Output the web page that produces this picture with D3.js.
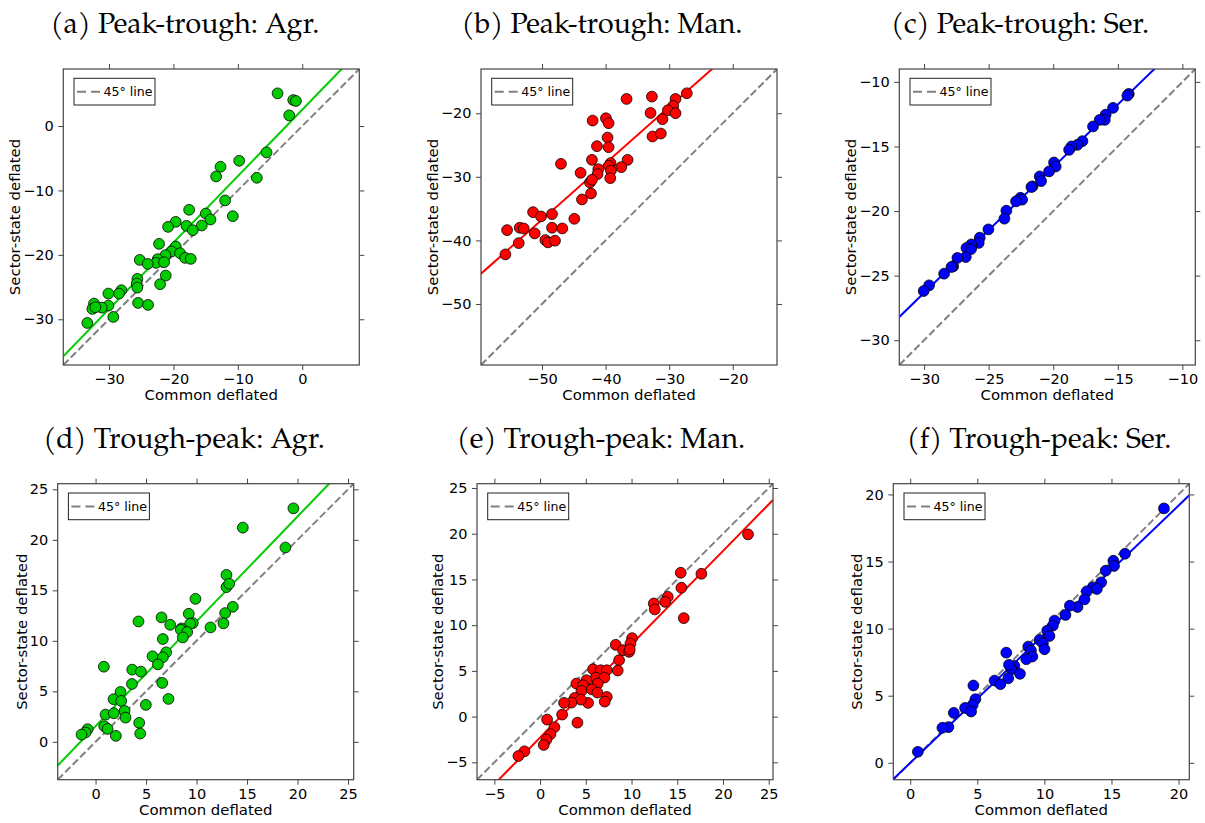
<!DOCTYPE html>
<html>
<head>
<meta charset="utf-8">
<script src="https://cdn.jsdelivr.net/npm/d3@7"></script>
<style>
  body { margin: 0; background: #fff; }
  .tick text { font-family: "DejaVu Sans", sans-serif; font-size: 14.5px; fill: #000; }
  .tick line { stroke: #444; stroke-width: 1; }
</style>
</head>
<body>
<div id="fig"></div>
<script>
// Scatter data (common deflated, sector-state deflated)
// Peak-trough
const agrPT_x = [-3.83,-1.40,-0.98,-2.02,-5.54,-9.79,-12.69,-13.37,-7.05,-11.97,-10.78,-17.56,-14.97,-14.25,-19.64,-20.83,-17.98,-15.60,-17.0,-22.23,-19.64,-20.31,-18.96,-21.24,-22.44,-18.19,-17.31,-22.69,-21.45,-25.23,-23.99,-21.19,-22.07,-25.60,-25.70,-25.60,-25.49,-23.94,-28.08,-28.45,-30.10,-30.10,-31.14,-32.33,-32.59,-32.12,-29.33,-33.37];
const agrPT_y = [5.08,4.04,3.89,1.66,-4.09,-5.39,-6.32,-7.82,-8.03,-11.55,-13.99,-13.0,-13.58,-14.51,-14.87,-15.65,-15.49,-15.44,-16.17,-18.29,-18.7,-19.48,-19.74,-20.05,-20.67,-20.47,-20.62,-21.24,-21.14,-20.78,-21.4,-23.21,-24.56,-23.73,-24.46,-25.08,-27.46,-27.77,-25.49,-26.01,-26.01,-27.88,-28.19,-27.56,-28.39,-28.13,-29.64,-30.57];
const manPT_x = [-27.23,-32.72,-36.70,-29.0,-29.37,-30.21,-29.0,-32.93,-31.05,-39.95,-42.04,-39.53,-32.62,-31.31,-39.69,-41.36,-39.53,-42.15,-36.54,-47.02,-39.21,-39.48,-37.54,-41.15,-39.16,-43.93,-41.26,-39.27,-42.46,-42.15,-42.30,-43.72,-51.41,-50.16,-48.43,-44.92,-55.50,-53.51,-52.88,-48.43,-46.81,-51.15,-53.66,-49.48,-49.06,-47.96,-55.76];
const manPT_y = [-16.86,-17.38,-17.75,-17.75,-18.85,-19.53,-20,-19.95,-20.94,-20.79,-21.15,-21.57,-23.66,-23.19,-23.82,-25.18,-25.34,-27.33,-27.33,-27.96,-27.85,-28.27,-28.48,-28.80,-29.01,-29.37,-29.58,-30.21,-30.89,-30.47,-32.62,-33.56,-35.55,-36.23,-35.86,-36.60,-38.38,-38.01,-38.12,-38.01,-38.12,-38.90,-40.42,-39.95,-40.31,-40.05,-42.20];
const serPT_x = [-14.15,-14.26,-15.37,-15.94,-16.01,-16.40,-16.92,-17.74,-18.13,-18.59,-18.77,-19.94,-19.81,-20.32,-21.05,-20.94,-21.61,-21.69,-22.54,-22.41,-22.88,-23.63,-23.78,-25.02,-25.69,-25.77,-26.34,-26.72,-26.36,-26.77,-27.42,-27.75,-27.88,-28.45,-29.61,-30.03];
const serPT_y = [-10.93,-11.06,-12.01,-12.53,-12.94,-12.94,-13.45,-14.59,-14.87,-15.0,-15.26,-16.24,-16.55,-16.93,-17.32,-17.68,-18.09,-18.14,-18.97,-19.12,-19.25,-19.97,-20.59,-21.42,-22.06,-22.47,-22.58,-22.86,-22.94,-23.56,-23.63,-24.28,-24.33,-24.85,-25.75,-26.19];
// Trough-peak
const agrTP_x = [19.59,14.58,18.80,12.96,12.96,13.23,9.89,13.59,12.83,9.23,6.53,4.25,7.39,9.63,9.37,12.66,11.38,8.51,8.44,9.07,8.64,6.66,6.99,5.64,6.66,6.17,0.82,3.63,4.49,3.60,6.60,2.47,1.78,2.54,7.22,4.98,2.87,0.99,1.81,2.97,4.32,0.86,1.19,4.42,2.01,-0.79,-0.99,-1.39];
const agrTP_y = [23.12,21.21,19.24,16.53,15.32,15.65,14.16,13.37,12.75,12.68,12.32,11.92,11.59,11.76,11.69,11.73,11.33,11.23,11.10,10.87,10.34,10.18,8.86,8.47,8.37,7.67,7.44,7.15,6.95,5.73,5.83,4.94,4.22,4.05,4.25,3.66,3.06,2.70,2.83,2.40,1.88,1.55,1.28,0.82,0.59,1.25,0.92,0.72];
const manTP_x = [22.74,15.38,17.64,15.45,12.43,12.54,13.96,13.67,15.71,10.06,9.88,8.27,9.07,9.73,9.80,8.64,8.49,5.79,6.63,7.29,6.09,7.03,5.07,6.30,3.97,4.70,5.65,4.52,6.27,7.29,7.07,5.25,3.79,4.45,3.43,2.62,2.41,0.77,4.08,1.57,1.13,0.69,0.40,-1.71,-2.37];
const manTP_y = [19.93,15.73,15.62,14.09,12.37,11.72,13.10,12.55,10.77,8.58,7.99,7.85,7.26,7.08,7.34,6.17,5.04,5.18,5.07,5.07,4.27,4.27,3.98,3.61,3.61,3.43,2.99,2.81,2.63,2.15,1.64,1.50,2.04,1.86,1.53,1.50,0.22,-0.33,-0.66,-1.17,-1.93,-2.52,-3.10,-3.80,-4.31];
const serTP_x = [18.91,16.01,15.14,15.19,14.57,14.23,13.61,13.91,13.16,12.99,12.47,11.90,11.57,10.76,10.63,10.21,10.38,9.64,9.89,10.01,8.80,9.0,9.10,8.65,7.16,7.76,7.54,7.36,7.31,8.18,6.29,6.72,4.71,4.86,4.66,4.09,4.54,3.25,2.85,2.40,0.57];
const serTP_y = [18.96,15.58,15.06,14.67,14.32,13.45,13.08,12.95,12.78,12.18,11.61,11.71,11.02,10.60,10.22,9.85,9.45,9.16,8.91,8.46,8.66,8.36,7.92,7.72,8.21,7.22,6.97,7.30,6.30,6.63,6.13,5.86,5.76,4.74,4.32,4.09,3.82,3.72,2.66,2.61,0.82];

// Panel titles, fitted line (slope, intercept), axis ranges and ticks
const titles = ["(a) Peak-trough: Agr.", "(b) Peak-trough: Man.", "(c) Peak-trough: Ser.",
                "(d) Trough-peak: Agr.", "(e) Trough-peak: Man.", "(f) Trough-peak: Ser."];
const fitSlope = [1.032, 0.886, 0.972, 1.038, 1.02, 0.959];
const fitIntercept = [2.54, 7.57, 2.83, 1.55, -2.29, -0.01];
const axisMin = [-37.1, -59.6, -31.92, -3.75, -6.9, -1.26];
const axisMax = [8.86, -13.04, -9.0, 25.56, 25.47, 20.8];
const tickValues = [
    [-30, -20, -10, 0], [-50, -40, -30, -20], [-30, -25, -20, -15, -10],
    [0, 5, 10, 15, 20, 25], [-5, 0, 5, 10, 15, 20, 25], [0, 5, 10, 15, 20]
];
const xData = [agrPT_x, manPT_x, serPT_x, agrTP_x, manTP_x, serTP_x];
const yData = [agrPT_y, manPT_y, serPT_y, agrTP_y, manTP_y, serTP_y];
const colors = ["#00cc00", "#ff0000", "#0000ff", "#00cc00", "#ff0000", "#0000ff"];

// Layout of each panel on the page (plot box in pixels + title centre)
const boxes = [
    { left: 63.3, top: 69, size: 296, titleX: 185, titleY: 33 },
    { left: 481, top: 69, size: 296, titleX: 602, titleY: 33 },
    { left: 899.3, top: 69, size: 296, titleX: 1020, titleY: 33 },
    { left: 57.7, top: 483.7, size: 296, titleX: 184, titleY: 448 },
    { left: 477, top: 483.7, size: 296, titleX: 601, titleY: 448 },
    { left: 893.3, top: 483.7, size: 296, titleX: 1039, titleY: 448 }
];

var svg = d3.select("#fig")
    .append("svg")
    .attr("width", 1205)
    .attr("height", 823);

function drawPanel(i) {
    var b = boxes[i];
    var x = d3.scaleLinear().domain([axisMin[i], axisMax[i]]).range([0, b.size]);
    var y = d3.scaleLinear().domain([axisMin[i], axisMax[i]]).range([b.size, 0]);
    var g = svg.append("g").attr("transform", "translate(" + b.left + "," + b.top + ")");

    // clip for the lines
    g.append("clipPath").attr("id", "clip" + i)
        .append("rect").attr("width", b.size).attr("height", b.size);

    // axes (ticks pointing out on all four sides)
    g.append("g").attr("transform", "translate(0," + b.size + ")")
        .call(d3.axisBottom(x).tickValues(tickValues[i]).tickSize(5).tickPadding(4.2));
    g.append("g")
        .call(d3.axisTop(x).tickValues(tickValues[i]).tickSize(5).tickFormat(""));
    var yAxis = g.append("g")
        .call(d3.axisLeft(y).tickValues(tickValues[i]).tickSize(5).tickPadding(4.5));
    g.append("g").attr("transform", "translate(" + b.size + ",0)")
        .call(d3.axisRight(y).tickValues(tickValues[i]).tickSize(5).tickFormat(""));
    g.selectAll(".domain").remove();

    var lines = g.append("g").attr("clip-path", "url(#clip" + i + ")");
    // 45 degree line
    lines.append("line")
        .attr("x1", x(axisMin[i])).attr("y1", y(axisMin[i]))
        .attr("x2", x(axisMax[i])).attr("y2", y(axisMax[i]))
        .attr("stroke", "#808080")
        .attr("stroke-width", 2)
        .attr("stroke-dasharray", "7.4,3.2");
    // fitted line
    lines.append("line")
        .attr("x1", x(axisMin[i])).attr("y1", y(fitSlope[i] * axisMin[i] + fitIntercept[i]))
        .attr("x2", x(axisMax[i])).attr("y2", y(fitSlope[i] * axisMax[i] + fitIntercept[i]))
        .attr("stroke", colors[i])
        .attr("stroke-width", 2);

    // points
    g.selectAll("circle")
        .data(d3.range(xData[i].length))
        .enter()
        .append("circle")
        .attr("cx", (k) => x(xData[i][k]))
        .attr("cy", (k) => y(yData[i][k]))
        .attr("r", 5.4)
        .attr("fill", colors[i])
        .attr("stroke", "#000")
        .attr("stroke-width", 0.8);

    // frame
    g.append("rect")
        .attr("width", b.size).attr("height", b.size)
        .attr("fill", "none")
        .attr("stroke", "#444")
        .attr("stroke-width", 1.2);

    // legend
    var leg = g.append("g").attr("transform", "translate(10.7,9.3)");
    leg.append("rect")
        .attr("width", 81).attr("height", 26.7)
        .attr("fill", "#fff")
        .attr("stroke", "#222")
        .attr("stroke-width", 1);
    leg.append("line")
        .attr("x1", 3).attr("x2", 26)
        .attr("y1", 13.4).attr("y2", 13.4)
        .attr("stroke", "#808080")
        .attr("stroke-width", 2)
        .attr("stroke-dasharray", "9,5");
    leg.append("text")
        .attr("x", 29.5).attr("y", 18)
        .attr("font-family", "DejaVu Sans, sans-serif")
        .attr("font-size", "12.6px")
        .text("45\u00b0 line");

    // axis labels
    g.append("text")
        .attr("x", b.size / 2)
        .attr("y", b.size + 35)
        .attr("text-anchor", "middle")
        .attr("font-family", "DejaVu Sans, sans-serif")
        .attr("font-size", "14.9px")
        .text("Common deflated");
    var yb = yAxis.node().getBBox();
    g.append("text")
        .attr("transform", "translate(" + (yb.x - 3) + "," + (b.size / 2) + ") rotate(-90)")
        .attr("text-anchor", "middle")
        .attr("font-family", "DejaVu Sans, sans-serif")
        .attr("font-size", "14.9px")
        .text("Sector-state deflated");

    // title
    svg.append("text")
        .attr("x", b.titleX)
        .attr("y", b.titleY)
        .attr("text-anchor", "middle")
        .attr("font-family", "Palatino Linotype, TeX Gyre Pagella, Liberation Serif, serif")
        .attr("font-size", "28.5px")
        .text(titles[i]);
}

for (var i = 0; i < 6; i++) drawPanel(i);
</script>
</body>
</html>
